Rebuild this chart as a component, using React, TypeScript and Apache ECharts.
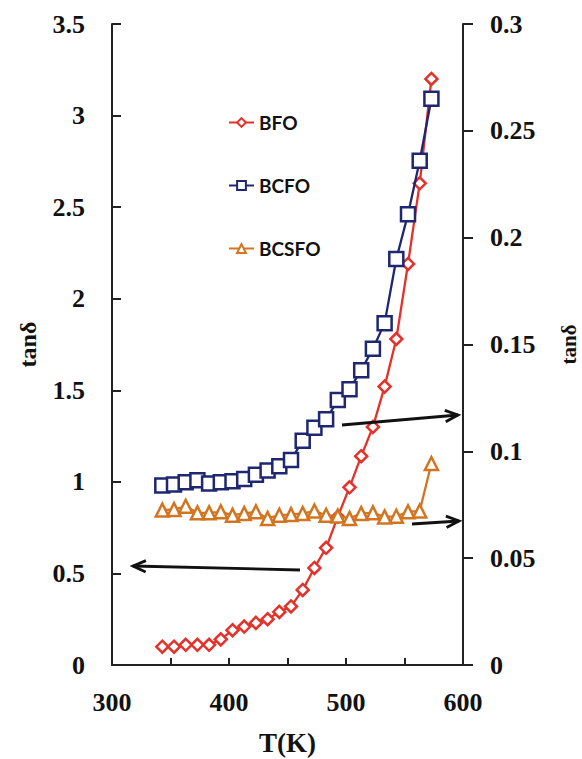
import React, { useEffect, useRef } from "react";
import * as echarts from "echarts";

const temps = [343, 353, 363, 373, 383, 393, 403, 413, 423, 433, 443, 453, 463, 473, 483, 493, 503, 513, 523, 533, 543, 553, 563, 573];
const bfo = [0.10, 0.10, 0.11, 0.11, 0.11, 0.14, 0.19, 0.21, 0.23, 0.25, 0.29, 0.32, 0.41, 0.53, 0.64, 0.81, 0.97, 1.14, 1.30, 1.52, 1.78, 2.19, 2.63, 3.20];
const bcfo = [0.084, 0.0845, 0.0855, 0.0865, 0.085, 0.0855, 0.086, 0.087, 0.089, 0.091, 0.093, 0.096, 0.105, 0.111, 0.115, 0.124, 0.129, 0.138, 0.148, 0.160, 0.190, 0.211, 0.236, 0.265];
const bcsfo = [0.0725, 0.0728, 0.0743, 0.0712, 0.0712, 0.0717, 0.0701, 0.0709, 0.0717, 0.0686, 0.0701, 0.0704, 0.0709, 0.0721, 0.0701, 0.0697, 0.0686, 0.0709, 0.0712, 0.0693, 0.0696, 0.0717, 0.0721, 0.0943];

const seriesNames = ["BFO", "BCFO", "BCSFO"];
const colors = ["#e4312a", "#1e2770", "#d27521"];

// arrows: [x1, y1, x2, y2] in pixels (annotation only)
const arrows = [
  [300, 570, 133, 566],
  [342, 425, 458, 415],
  [412, 524, 459, 521],
];

const serif = "'Liberation Serif', 'Times New Roman', serif";
const sans = "Lato, 'Liberation Sans', Arial, sans-serif";

function arrowGraphics() {
  const out: any[] = [];
  arrows.forEach(([x1, y1, x2, y2]) => {
    const ang = Math.atan2(y2 - y1, x2 - x1);
    const len = 14;
    const spread = 0.42;
    const a1 = [x2 - len * Math.cos(ang - spread), y2 - len * Math.sin(ang - spread)];
    const a2 = [x2 - len * Math.cos(ang + spread), y2 - len * Math.sin(ang + spread)];
    out.push({
      type: "line",
      shape: { x1, y1, x2, y2 },
      style: { stroke: "#111", lineWidth: 2.8 },
      z: 10,
    });
    out.push({
      type: "polyline",
      shape: { points: [a1, [x2, y2], a2] },
      style: { stroke: "#111", lineWidth: 2.8, fill: null },
      z: 10,
    });
  });
  return out;
}

export default function App() {
  const ref = useRef<HTMLDivElement>(null);
  useEffect(() => {
    if (!ref.current) return;
    const chart = echarts.init(ref.current, null, { renderer: "svg" });
    const mk = (i: number, data: number[], yAxisIndex: number, symbol: string, size: number) => ({
      name: seriesNames[i],
      type: "line",
      yAxisIndex,
      data: temps.map((t, k) => [t, data[k]]),
      symbol,
      symbolSize: size,
      showAllSymbol: true,
      lineStyle: { color: colors[i], width: 2.3 },
      itemStyle: { color: "#fff", borderColor: colors[i], borderWidth: 2.5 },
      z: 3 + i,
    });
    chart.setOption({
      animation: false,
      backgroundColor: "#fff",
      grid: { left: 112, right: 119, top: 24, bottom: 94, containLabel: false, outerBoundsMode: "none" },
      legend: {
        orient: "vertical",
        left: 223,
        top: 108,
        itemGap: 44,
        itemWidth: 25,
        itemHeight: 11,
        textStyle: { fontFamily: sans, fontWeight: "bold", fontSize: 19, color: "#111" },
        data: seriesNames,
      },
      xAxis: {
        type: "value",
        min: 300,
        max: 600,
        interval: 50,
        name: "T(K)",
        nameLocation: "middle",
        nameGap: 64,
        nameTextStyle: { fontFamily: serif, fontWeight: "bold", fontSize: 27, color: "#111" },
        axisLine: { onZero: false, lineStyle: { color: "#222", width: 2 } },
        axisTick: { inside: true, length: 7, lineStyle: { color: "#222", width: 2 } },
        axisLabel: {
          margin: 24,
          fontFamily: serif,
          fontWeight: "bold",
          fontSize: 26,
          color: "#111",
          formatter: (v: number) => (v % 100 === 0 ? String(v) : ""),
        },
        splitLine: { show: false },
      },
      yAxis: [
        {
          type: "value",
          position: "left",
          min: 0,
          max: 3.5,
          interval: 0.5,
          name: "tanδ",
          nameLocation: "middle",
          nameRotate: 90,
          nameGap: 72,
          nameTextStyle: { fontFamily: serif, fontWeight: "bold", fontSize: 24, color: "#111" },
          axisLine: { show: true, onZero: false, lineStyle: { color: "#222", width: 2 } },
          axisTick: { show: true, inside: true, length: 9, lineStyle: { color: "#222", width: 2 } },
          axisLabel: { margin: 27, fontFamily: serif, fontWeight: "bold", fontSize: 26, color: "#111" },
          splitLine: { show: false },
        },
        {
          type: "value",
          position: "right",
          min: 0,
          max: 0.3,
          interval: 0.05,
          name: "tanδ",
          nameLocation: "middle",
          nameRotate: 90,
          nameGap: 95,
          nameTextStyle: { fontFamily: serif, fontWeight: "bold", fontSize: 21, color: "#111" },
          axisLine: { show: true, onZero: false, lineStyle: { color: "#222", width: 2 } },
          axisTick: { show: true, inside: false, length: 10, lineStyle: { color: "#222", width: 2 } },
          axisLabel: {
            margin: 27,
            fontFamily: serif,
            fontWeight: "bold",
            fontSize: 26,
            color: "#111",
            formatter: (v: number) => String(Math.round(v * 100) / 100),
          },
          splitLine: { show: false },
        },
      ],
      series: [
        mk(0, bfo, 0, "diamond", 12),
        mk(1, bcfo, 1, "rect", 14),
        mk(2, bcsfo, 1, "triangle", 13),
      ],
      graphic: arrowGraphics(),
    });
    return () => chart.dispose();
  }, []);
  return (
    <div
      ref={ref}
      style={{ position: "fixed", left: 0, top: 0, width: 582, height: 759, background: "#fff" }}
    />
  );
}
